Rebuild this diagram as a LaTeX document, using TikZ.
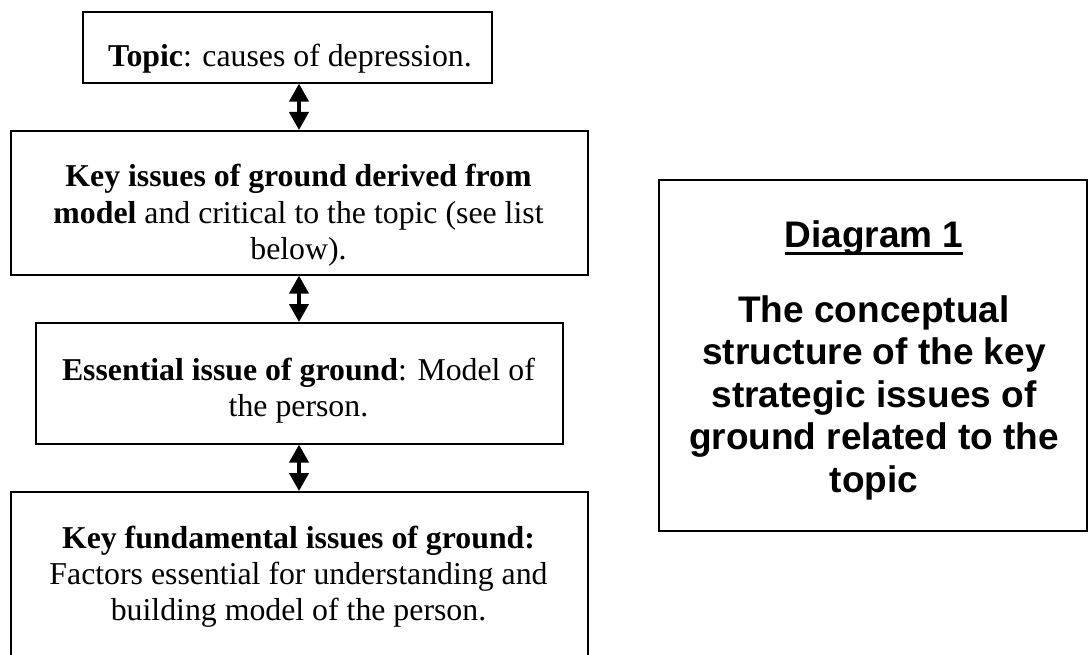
\documentclass[tikz,border=0pt]{standalone}
\usepackage{fontspec}
\setmainfont{Liberation Serif}
\newfontfamily\arialfont{Liberation Sans}
\usetikzlibrary{arrows.meta}
\newcommand\myul[1]{\setbox0\hbox{#1}\rlap{\rule[-7.5pt]{\wd0}{3pt}}\box0}
\begin{document}
\begin{tikzpicture}[x=1pt,y=-1pt,
  box/.style={draw, line width=1.6pt, rectangle, inner sep=0pt, anchor=north west},
  txt/.style={font=\fontsize{31.8}{36.3}\selectfont, align=center, inner sep=0pt, anchor=base},
  rtxt/.style={font=\arialfont\bfseries\fontsize{37}{42.5}\selectfont, align=center, inner sep=0pt, anchor=base},
  dbl/.style={line width=4pt, {Triangle[width=19pt,length=18pt]}-{Triangle[width=19pt,length=18pt]}},
]
\useasboundingbox (0,0) rectangle (1089,655);
\clip (0,0) rectangle (1089,655);
\fill[white] (0,0) rectangle (1089,655);
% boxes
\node[box, minimum width=409pt, minimum height=71pt] (b1) at (82,11) {};
\node[box, minimum width=577pt, minimum height=144pt] (b2) at (10,130) {};
\node[box, minimum width=527pt, minimum height=121pt] (b3) at (35,322) {};
\node[box, minimum width=577pt, minimum height=180pt] (b4) at (10,491) {};
\node[box, minimum width=428pt, minimum height=351pt] (rb) at (658,179) {};
% texts (anchor = baseline of the last line)
\node[txt] (t1) at (290,67) {\textbf{Topic}: causes of depression.};
\node[txt] (t2) at (298.5,259.6) {\textbf{Key issues of ground derived from}\\\textbf{model} and critical to the topic (see list\\below).};
\node[txt] (t3) at (298.5,416.3) {\textbf{Essential issue of ground}: Model of\\the person.};
\node[txt] (t4) at (298.5,620.6) {\textbf{Key fundamental issues of ground:}\\Factors essential for understanding and\\building model of the person.};
\node[rtxt] (d1) at (874,247) {\myul{Diagram 1}};
\node[rtxt] (d2) at (874,492) {The conceptual\\structure of the key\\strategic issues of\\ground related to the\\topic};
% connectors
\coordinate (ax) at (299,0);
\draw[dbl] (b1.south -| ax) -- (b2.north -| ax);
\draw[dbl] (b2.south -| ax) -- (b3.north -| ax);
\draw[dbl] (b3.south -| ax) -- (b4.north -| ax);
\end{tikzpicture}
\end{document}
